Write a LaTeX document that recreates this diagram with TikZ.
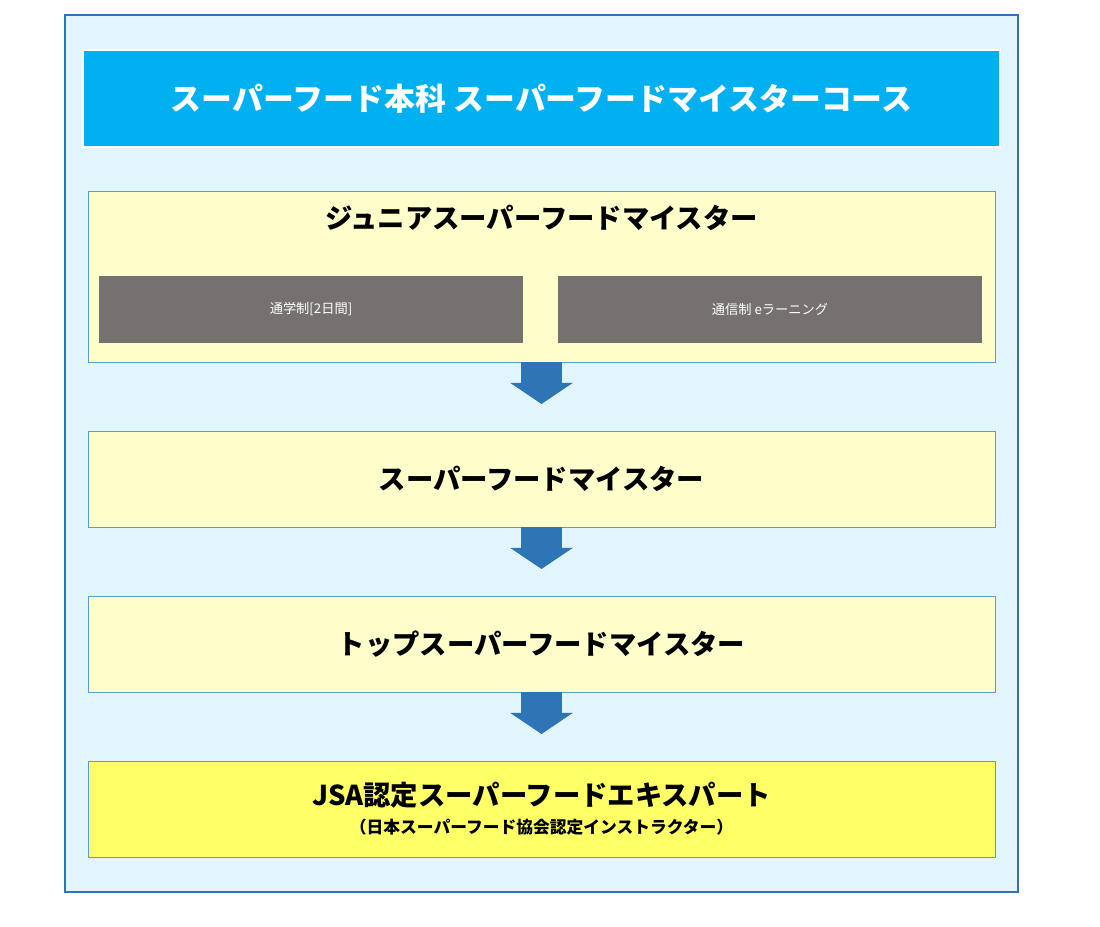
\documentclass[tikz,border=0pt]{standalone}
\usepackage{fontspec}
\setmainfont{Noto Sans CJK JP}
\usetikzlibrary{positioning,arrows.meta}
\definecolor{frameblue}{HTML}{2E75B6}
\definecolor{panelbg}{HTML}{E2F4FC}
\definecolor{titlecyan}{HTML}{00B0F0}
\definecolor{stepfill}{HTML}{FFFFCC}
\definecolor{goalfill}{HTML}{FFFF66}
\definecolor{stepline}{HTML}{5B9BD5}
\definecolor{greybox}{HTML}{767171}
\begin{document}
\begin{tikzpicture}[
  x=0.5669pt,y=-0.5669pt,
  stepbox/.style={draw=stepline,line width=0.5pt,fill=stepfill,minimum width=907*0.5669pt,minimum height=96*0.5669pt,font=\bfseries\fontsize{15.5}{18}\selectfont,align=center},
  modebox/.style={fill=greybox,text=white,minimum width=424*0.5669pt,minimum height=67*0.5669pt,font=\fontsize{7.5}{9}\selectfont},
  bigarrow/.style={color=frameblue,line width=22.7pt,-{Triangle[width=35pt,length=12pt]}}
]
\useasboundingbox (0,0) rectangle (1100,926);
\draw[frameblue,line width=1.5pt,fill=panelbg] (65,15) rectangle (1018,892);
\node[fill=titlecyan,draw=white,line width=1.2pt,text=white,minimum width=917*0.5669pt,minimum height=97*0.5669pt,font=\bfseries\fontsize{17.5}{20}\selectfont] (title) at (541.5,98.5) {スーパーフード本科 スーパーフードマイスターコース};
% first step with the two study modes
\node[stepbox,minimum height=171*0.5669pt,text depth=120*0.5669pt] (junior) at (541.5,276.5) {ジュニアスーパーフードマイスター};
\node[modebox] (school) at (311,309.5) {通学制[2日間]};
\node[modebox] (remote) at (770,309.5) {通信制 eラーニング};
\node[stepbox] (meister) at (541.5,479) {スーパーフードマイスター};
\node[stepbox] (top) at (541.5,644) {トップスーパーフードマイスター};
\node[stepbox,fill=goalfill] (expert) at (541.5,809) {JSA認定スーパーフードエキスパート\\[-2pt]{\fontsize{9.5}{11}\selectfont （日本スーパーフード協会認定インストラクター）}};
\coordinate (a1) at (541.5,404);
\coordinate (a2) at (541.5,569);
\coordinate (a3) at (541.5,734);
\draw[bigarrow] (junior.south) -- (a1);
\draw[bigarrow] (meister.south) -- (a2);
\draw[bigarrow] (top.south) -- (a3);
\end{tikzpicture}
\end{document}
